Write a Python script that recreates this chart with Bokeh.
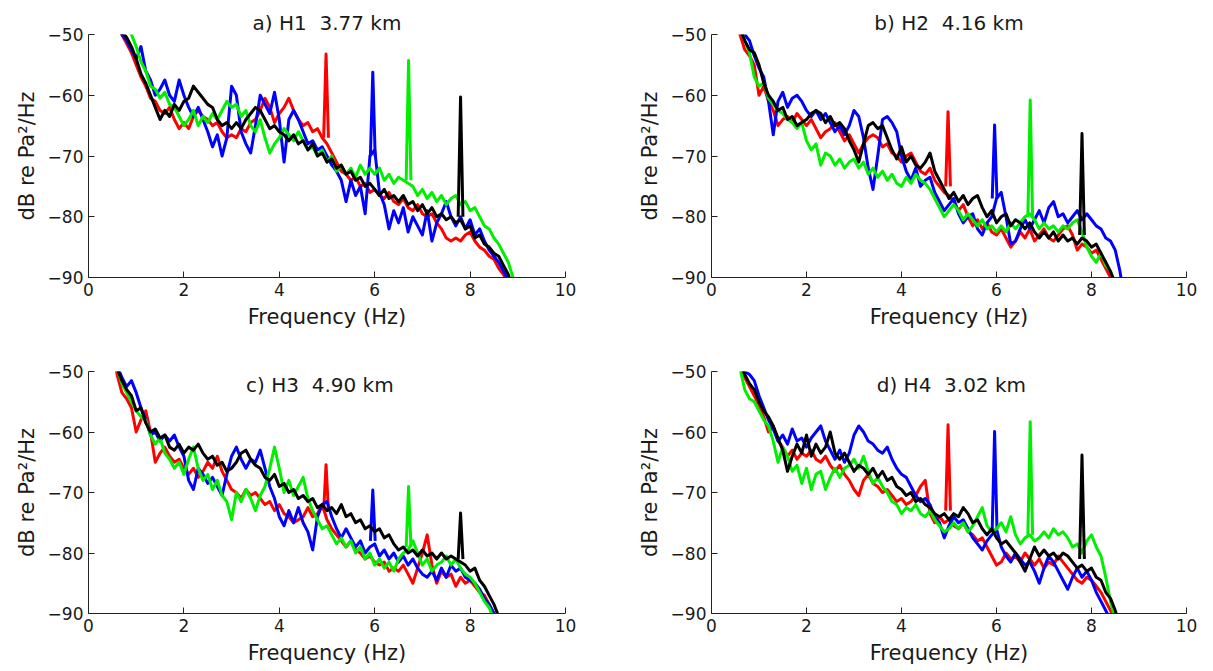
import numpy as np
from bokeh.plotting import figure
from bokeh.layouts import gridplot
from bokeh.models import Label, FixedTicker, Range1d, CustomJSTickFormatter
from bokeh.embed import file_html
from bokeh.resources import INLINE

# frequency grid (Hz), 0.5 .. 9.0 step 0.1
freq = np.round(np.arange(0.5, 9.0001, 0.1), 2)

# ---------------- panel a) H1 3.77 km ----------------
a_red = [-45, -48, -50, -51.5, -53, -55, -57, -58.5, -60.5, -61,
         -62.5, -63, -62, -64, -65.5, -64.5, -65.5, -63.5, -62.5, -63.5,
         -64, -65, -64.5, -66, -67, -66.5, -67, -65.5, -66, -64.5,
         -64, -62.5, -60.5, -62, -64.5, -63, -62, -60.5, -62.5, -64,
         -65, -64.5, -66, -65.5, -67, -68, -69.5, -71, -72.5, -73,
         -74, -73.5, -75, -74.5, -76, -75.5, -76.5, -77, -76, -77.5,
         -78, -77, -78.5, -79, -78, -79.5, -80, -79.5, -81, -82,
         -83.5, -84, -83.5, -84, -83, -82.5, -84, -85, -85.5, -86.5,
         -87, -88.5, -89.5, -91, -94, -97]
a_blue = [-45, -47.5, -50, -51, -52.5, -54, -52, -56, -57.5, -60,
          -59, -57.5, -60, -61, -57.5, -60, -62, -63.5, -62, -64,
          -66, -68.5, -66.5, -70, -67, -58.5, -60, -66, -68, -69.5,
          -65, -60, -61.5, -63, -59.5, -64, -71, -64, -62.5, -64,
          -66, -68, -67.5, -69, -68.5, -70, -71.5, -72.5, -74, -77.5,
          -74, -76.5, -75, -79.5, -70, -69, -76, -78, -82, -79,
          -81, -78.5, -82.5, -80, -81.5, -83, -79, -84, -81, -79.5,
          -77.5, -80, -81.5, -80, -82, -80.5, -83, -82, -84, -85.5,
          -86.5, -87.5, -89, -90.5, -93, -96]
a_green = [-44, -46, -48, -49, -50, -52, -54.5, -56, -58.5, -59,
           -60.5, -59.5, -61.5, -62, -63.5, -65, -64, -62.5, -65, -63.5,
           -64.5, -63, -64, -62.5, -61, -62, -61.5, -63.5, -62.5, -65,
           -66, -64, -67, -69.5, -68, -67, -65.5, -66.5, -67.5, -66,
           -67.5, -69, -68.5, -70, -69, -71, -70, -72.5, -71.5, -73,
           -72, -73.5, -71.5, -73, -72, -73, -72, -74, -73, -74.5,
           -73.5, -74, -74.5, -75, -76.5, -75.5, -77, -76, -77.5, -76.5,
           -78, -77, -76.5, -78, -77.5, -79, -78.5, -80, -81.5, -82,
           -83.5, -84.5, -86, -87.5, -90, -94]
a_black = [-45, -47, -49.5, -50.5, -52, -54, -56.5, -58, -60, -62,
           -64, -62.5, -63.5, -61.5, -62.5, -61, -60.5, -58.5, -59.5, -60.5,
           -61.5, -62, -64, -65, -64.5, -65.5, -64.5, -65.5, -64, -63,
           -62, -62.5, -64, -65.5, -65, -66, -66.5, -67.5, -66.5, -68,
           -67.5, -69, -68, -70, -69.5, -71, -70.5, -72, -71.5, -73,
           -72.5, -74, -73.5, -75, -74.5, -75.5, -76.5, -75.5, -77, -76.5,
           -77.5, -76.5, -78, -77.5, -79, -78, -79.5, -78.5, -80, -79.5,
           -80.5, -80, -81, -80.5, -82, -81.5, -83.5, -83, -84.5, -85,
           -86, -86.5, -88, -89.5, -92, -95]

# ---------------- panel b) H2 4.16 km ----------------
b_red = [-46, -50, -52.5, -53.5, -55, -60, -58.5, -61, -62.5, -65,
         -64, -63.5, -64.5, -63, -64, -65, -64, -65.5, -67, -66,
         -65.5, -64.5, -66, -67.5, -66.5, -68, -69.5, -68, -67, -66.5,
         -67, -68.5, -68, -69.5, -70, -71, -70, -69.5, -71, -72.5,
         -73, -72, -74, -75, -76, -76.5, -77.5, -79, -78, -80,
         -81.5, -80.5, -82, -81, -82.5, -83, -82, -83.5, -85, -84,
         -82.5, -83.5, -82, -84, -83, -82, -83.5, -84, -83, -82,
         -81.5, -83, -85.5, -84.5, -85, -86, -85.5, -87, -88.5, -90,
         -93, -96, -100, -100, -100, -100]
b_blue = [-45, -48.5, -50, -51, -53.5, -55.5, -57, -61, -66.5, -61,
          -59.5, -62, -60.5, -60, -61, -62.5, -63.5, -62.5, -64, -63,
          -64.5, -66, -65, -66.5, -65, -62.5, -63.5, -67, -72, -75.5,
          -70, -64, -63.5, -64.5, -66, -70, -72.5, -74, -72, -75,
          -74, -73.5, -76, -77.5, -79, -78, -77, -79.5, -81, -80,
          -79.5, -82, -83, -81, -80, -77, -76, -80, -84.5, -84,
          -82, -80.5, -82, -80.5, -79, -81, -78.5, -77.5, -80, -79.5,
          -81, -80, -79, -80.5, -79.5, -80.5, -81.5, -82, -83.5, -84,
          -85.5, -89, -94, -100, -100, -100]
b_green = [-45, -49, -51, -53, -57, -58.5, -58, -60.5, -61.5, -62.5,
           -63, -64, -64.5, -65.5, -64.5, -67.5, -69, -68, -71.5, -69.5,
           -70, -71.5, -70.5, -72, -71, -70.5, -72, -71, -73, -72,
           -73.5, -72.5, -74, -73, -74.5, -75, -73.5, -74.5, -73, -74,
           -74.5, -75.5, -77, -78.5, -80, -79, -78, -79, -80.5, -79.5,
           -80.5, -81.5, -80.5, -82, -81.5, -82.5, -81.5, -82.5, -81, -82,
           -81, -80, -79.5, -80.5, -82, -81, -82, -81.5, -82.5, -81.5,
           -82, -81, -80.5, -82.5, -85, -86.5, -87.5, -86, -88, -89,
           -91, -95, -100, -100, -100, -100]
b_black = [-45, -49, -51, -52.5, -53, -55, -58, -60, -61, -62.5,
           -62, -64, -63.5, -65, -64.5, -64, -63, -62.5, -63, -64.5,
           -63.5, -65, -64.5, -65.5, -67.5, -69, -71, -68, -65, -64.5,
           -65.5, -65, -67, -69, -70.5, -68.5, -71, -70, -71.5, -72,
           -71, -69.5, -72.5, -74, -75.5, -77, -76, -77.5, -76.5, -78,
           -77, -76.5, -78.5, -80, -79, -81, -80, -79.5, -81.5, -80.5,
           -81, -82, -81, -82.5, -83.5, -82.5, -83.5, -82.5, -84, -83,
           -84, -83.5, -84.5, -83.5, -84, -85, -84.5, -86, -87.5, -89,
           -91, -94, -97, -100, -100, -100]

# ---------------- panel c) H3 4.90 km ----------------
c_red = [-46, -50.5, -53.5, -54.5, -56, -60, -58, -56.5, -60, -65,
         -63.5, -62.5, -64, -65, -64.5, -66, -67, -66, -67.5, -66.5,
         -65, -66, -64, -66.5, -68, -69.5, -70, -71, -69.5, -70.5,
         -70, -71, -72, -71.5, -73, -72, -73.5, -74, -75, -74.5,
         -74, -72.5, -74, -73.5, -72, -74.5, -76, -77, -78, -79,
         -78, -79.5, -80, -81, -80.5, -81.5, -82, -81.5, -83, -82.5,
         -83, -82, -83.5, -85, -82.5, -80, -77, -82, -85, -83,
         -84, -83.5, -85.5, -84, -85, -84.5, -85.5, -86.5, -87, -88.5,
         -90, -93, -97, -100, -100, -100]
c_blue = [-46, -49, -51, -52.5, -51.5, -53.5, -56, -58, -60.5, -60,
          -61.5, -60.5, -61.5, -60.5, -62.5, -64, -68, -69.5, -66, -67,
          -68.5, -67.5, -69, -70.5, -67, -64, -62.5, -64.5, -66, -64.5,
          -65, -63, -66, -69, -71, -74, -75.5, -73, -75, -72.5,
          -75, -76.5, -79.5, -74, -72, -71.5, -74, -76, -77.5, -76,
          -77.5, -79, -78, -80, -79, -78.5, -80.5, -79.5, -81, -80,
          -81.5, -80.5, -82, -81, -82.5, -83.5, -84, -83, -84.5, -82.5,
          -84, -82, -83, -82.5, -84, -84.5, -85, -86, -87.5, -88.5,
          -90, -93, -97, -100, -100, -100]
c_green = [-46, -49.5, -52, -53.5, -55, -56.5, -57.5, -58, -60.5, -62,
           -61, -63.5, -64.5, -66, -65, -67, -64.5, -62.5, -66, -68,
           -67, -69.5, -68, -70.5, -71.5, -74.5, -70, -71.5, -69.5, -71,
           -73, -70.5, -69, -66, -62.5, -66, -70, -68, -70.5, -69,
           -67.5, -71, -73, -74.5, -76, -75.5, -77, -78.5, -77.5, -79,
           -78, -80, -79, -81, -80, -82, -81, -82.5, -81.5, -83,
           -81, -80, -79.5, -78, -80, -82, -81, -83, -82, -81.5,
           -80.5, -82, -81, -82.5, -83.5, -84, -85, -86.5, -88, -89,
           -91, -95, -100, -100, -100, -100]
c_black = [-47, -49.5, -51.5, -53, -54, -56.5, -56, -58.5, -60, -59.5,
           -61, -60.5, -62.5, -63, -62, -63.5, -62.5, -63, -62, -63.5,
           -64.5, -64, -65.5, -65, -66.5, -66, -65, -63.5, -63, -64.5,
           -65.5, -66, -67.5, -68, -67, -69, -68.5, -70, -69.5, -71,
           -70.5, -71.5, -71, -72.5, -72, -73, -72.5, -73.5, -72, -74,
           -73.5, -75, -74.5, -76, -75.5, -76.5, -76, -77.5, -77, -78.5,
           -79.5, -79, -80, -79.5, -80.5, -79.5, -80.5, -80, -81, -80,
           -81, -80.5, -81, -81.5, -82, -83, -82.5, -84.5, -85.5, -87,
           -88.5, -90.5, -94, -100, -100, -100]

# ---------------- panel d) H4 3.02 km ----------------
d_red = [-46, -49, -51, -52.5, -54, -55.5, -57.5, -60, -59, -61.5,
         -62.5, -64, -63, -64.5, -63.5, -64, -63, -64.5, -65, -64,
         -65.5, -66.5, -65.5, -67, -68, -69.5, -70.5, -68, -67, -68.5,
         -69, -70, -69.5, -70.5, -71.5, -71, -72, -71.5, -70.5, -69,
         -68, -73.5, -75, -74, -75, -74.5, -75.5, -76, -75, -76.5,
         -77, -78, -77.5, -79, -80.5, -82, -81.5, -80, -81, -80.5,
         -81.5, -80, -81, -82, -81, -82.5, -81.5, -82, -80.5, -81.5,
         -82.5, -83.5, -84.5, -85, -84, -84.5, -85.5, -86.5, -88, -89.5,
         -91, -95, -100, -100, -100, -100]
d_blue = [-45, -48, -50, -50.5, -51.5, -54, -56, -58, -59.5, -61.5,
          -60.5, -62, -59.5, -61.5, -61, -62.5, -61, -60, -59, -61.5,
          -63, -64.5, -63, -65, -63.5, -60.5, -59, -60, -61.5, -62,
          -63, -63.5, -62.5, -64.5, -66, -67, -67.5, -69, -70.5, -71.5,
          -71, -72, -74, -75, -77.5, -75.5, -74, -75, -74.5, -76,
          -77.5, -78.5, -79.5, -78, -77, -76, -79, -80.5, -81.5, -80,
          -81, -82, -81.5, -83, -85, -82.5, -80.5, -81.5, -83, -84.5,
          -86, -84, -82.5, -84, -83, -84.5, -86.5, -88, -89.5, -91,
          -93, -97, -100, -100, -100, -100]
d_green = [-46, -49.5, -53, -54.5, -55, -56.5, -58, -59, -61.5, -65,
           -62.5, -64, -66.5, -65.5, -68.5, -66, -69.5, -67, -66.5, -69.5,
           -67.5, -66, -67.5, -66, -65.5, -64.5, -66, -64, -66.5, -68.5,
           -67.5, -69, -70, -71.5, -72, -73.5, -72.5, -73, -72, -73.5,
           -74, -73, -74.5, -75.5, -76.5, -76, -75, -76, -75, -76.5,
           -75.5, -74, -72.5, -75.5, -76.5, -76, -75, -76.5, -74, -77,
           -78.5, -77.5, -77, -78, -77.5, -76.5, -77.5, -76, -77, -76.5,
           -77.5, -79, -78.5, -80, -78, -77, -79, -80.5, -84, -88,
           -91, -95, -100, -100, -100, -100]
d_black = [-45, -48, -50.5, -52, -53, -55, -56.5, -57.5, -59, -61,
           -63, -66.5, -64, -62, -63.5, -60.5, -64, -62, -63.5, -62.5,
           -60, -63.5, -64.5, -63.5, -65, -66.5, -65.5, -66, -67, -66,
           -67.5, -66.5, -68, -67.5, -69, -69.5, -70.5, -70, -71.5, -71,
           -72, -72.5, -73.5, -74, -73.5, -74.5, -73.5, -74, -72.5, -73.5,
           -75, -74.5, -76, -77, -76, -77.5, -78.5, -78, -79, -80,
           -81.5, -83, -81, -79, -80.5, -79.5, -80.5, -80, -81, -80,
           -80.5, -81.5, -82.5, -82, -83, -82.5, -84, -84.5, -86.5, -87.5,
           -89.5, -92, -97, -100, -100, -100]

# narrow tonal peaks (Hz) for red, blue, green, black
spike_freq = [4.98, 5.96, 6.71, 7.80]
a_spike_top = [-53.2, -56.2, -54.3, -60.3]
a_spike_base = [-67, -70, -74, -80]
b_spike_top = [-62.7, -64.9, -60.8, -66.3]
b_spike_base = [-75, -77, -80, -83]
c_spike_top = [-65.4, -69.6, -69.0, -73.4]
c_spike_base = [-73, -78, -79, -81]
d_spike_top = [-58.8, -59.9, -58.3, -63.8]
d_spike_base = [-73, -76, -77, -81]

x_ticks = [0, 2, 4, 6, 8, 10]
y_ticks = [-90, -80, -70, -60, -50]

colors = ["#ff0000", "#0000ff", "#00ee00", "#000000"]
FONT = "DejaVu Sans"
TXT = "#1a1a1a"
NB = "\u00a0"


def make_panel(w, h, bl, br, bt, bb, title, tx, ty, series, s_top, s_base,
               title_above):
    p = figure(width=w, height=h, output_backend="svg", toolbar_location=None,
               x_range=Range1d(0, 10), y_range=Range1d(-90, -50),
               min_border_left=bl, min_border_right=br,
               min_border_top=bt, min_border_bottom=bb,
               background_fill_color="white", border_fill_color="white")
    p.outline_line_color = None
    p.xgrid.visible = False
    p.ygrid.visible = False
    for ys, c, f, top, base in zip(series, colors, spike_freq, s_top, s_base):
        n = min(len(freq), len(ys))
        p.line(freq[:n], ys[:n], line_color=c, line_width=3.0, line_join="round")
        p.line([f - 0.05, f, f + 0.05], [base, top, base], line_color=c,
               line_width=3.0, line_join="round")
    p.xaxis.ticker = FixedTicker(ticks=x_ticks)
    p.yaxis.ticker = FixedTicker(ticks=y_ticks)
    fmt = CustomJSTickFormatter(code="return String(tick).replace('-', '\u2212');")
    p.yaxis.formatter = fmt
    p.xaxis.axis_label = "Frequency (Hz)"
    p.yaxis.axis_label = "dB re Pa\u00b2/Hz"
    for ax in (p.xaxis[0], p.yaxis[0]):
        ax.axis_label_text_font = FONT
        ax.axis_label_text_font_style = "normal"
        ax.axis_label_text_font_size = "21px"
        ax.axis_label_text_color = TXT
        ax.major_label_text_font = FONT
        ax.major_label_text_font_size = "17px"
        ax.major_label_text_color = TXT
        ax.major_tick_in = 6
        ax.major_tick_out = 0
        ax.minor_tick_line_color = None
        ax.axis_line_color = "#222222"
        ax.major_tick_line_color = "#222222"
        ax.major_label_standoff = 5
        ax.axis_label_standoff = 6
    text = title.replace(" ", NB)
    if title_above:
        p.title.text = text
        p.title.align = "center"
        p.title.text_font = FONT
        p.title.text_font_size = "20px"
        p.title.text_font_style = "normal"
        p.title.text_color = TXT
        p.title.standoff = 0
        p.title.offset = 0
    else:
        p.add_layout(Label(x=tx, y=ty, text=text, text_align="center",
                           text_baseline="middle", text_font=FONT,
                           text_font_size="20px", text_color=TXT))
    return p


pa = make_panel(606, 335, 88, 41, 34, 58, "a) H1  3.77 km", 5.0, -48.5,
                [a_red, a_blue, a_green, a_black], a_spike_top, a_spike_base, True)
pb = make_panel(607, 335, 105, 27, 34, 58, "b) H2  4.16 km", 5.05, -48.5,
                [b_red, b_blue, b_green, b_black], b_spike_top, b_spike_base, True)
pc = make_panel(606, 336, 88, 41, 36, 58, "c) H3  4.90 km", 4.85, -52.3,
                [c_red, c_blue, c_green, c_black], c_spike_top, c_spike_base, False)
pd = make_panel(607, 336, 105, 27, 36, 58, "d) H4  3.02 km", 5.05, -52.3,
                [d_red, d_blue, d_green, d_black], d_spike_top, d_spike_base, False)

grid = gridplot([[pa, pb], [pc, pd]], toolbar_location=None)

open("out.html", "w").write(file_html(grid, INLINE))
